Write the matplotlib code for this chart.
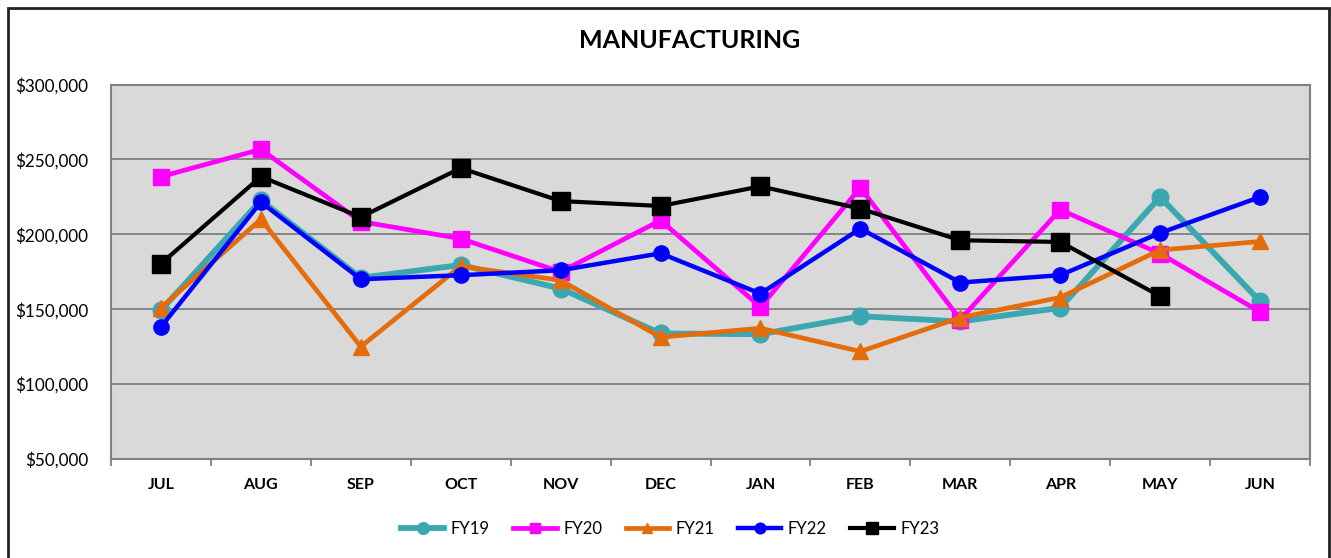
import matplotlib.pyplot as plt
import matplotlib.patches as pltp
from matplotlib.ticker import FuncFormatter, FixedLocator

plt.rcParams['font.family'] = ['Lato', 'DejaVu Sans']

months = ["JUL", "AUG", "SEP", "OCT", "NOV", "DEC", "JAN", "FEB", "MAR", "APR", "MAY", "JUN"]

fy19 = [149300, 222700, 171000, 179500, 163800, 133800, 133300, 145300, 141800, 150900, 224900, 155300]
fy20 = [238500, 256700, 208500, 197100, 174900, 209300, 151500, 231100, 143100, 216400, 187100, 148200]
fy21 = [151000, 210000, 125000, 178700, 169300, 131300, 137300, 121800, 144400, 157800, 189500, 195200]
fy22 = [138200, 221500, 170000, 172700, 176000, 187300, 160400, 203800, 167800, 172700, 200900, 224900]
fy23 = [180400, 238500, 211500, 244200, 222200, 218900, 232000, 217100, 196000, 194900, 158700]

series = [
    ("FY19", fy19, "#3ba7b1", "o", 12, 4.2),
    ("FY20", fy20, "#ff00ff", "s", 11, 3.4),
    ("FY21", fy21, "#e46c0a", "^", 11, 3.4),
    ("FY22", fy22, "#0000ff", "o", 11, 3.2),
    ("FY23", fy23, "#000000", "s", 13, 3.0),
]

fig = plt.figure(figsize=(13.31, 5.58), dpi=100)
ax = fig.add_axes([111 / 1331, 1 - 459 / 558, (1310 - 111) / 1331, (459 - 84.5) / 558])
ax.set_facecolor("#d9d9d9")

for name, vals, col, mk, ms, lw in series:
    ax.plot(range(len(vals)), vals, color=col, marker=mk, markersize=ms, lw=lw,
            markerfacecolor=col, markeredgecolor=col, label=name)

ax.set_xlim(-0.5, 11.5)
ax.set_ylim(50000, 300000)
ax.set_yticks(range(50000, 300001, 50000))
ax.yaxis.set_major_formatter(FuncFormatter(lambda v, p: "${:,.0f}".format(v)))
ax.grid(axis="y", color="#808080", lw=1.3)
ax.set_axisbelow(True)

ax.set_xticks(range(12))
ax.set_xticklabels(months, fontweight="bold", fontsize=11.5)
ax.xaxis.set_minor_locator(FixedLocator([i + 0.5 for i in range(-1, 12)]))
ax.tick_params(axis="x", which="major", length=0, pad=14)
ax.tick_params(axis="x", which="minor", length=5, color="#808080", width=1.3)
ax.tick_params(axis="y", length=0, pad=16.5, labelsize=12.3)

for s in ax.spines.values():
    s.set_color("#808080")
    s.set_linewidth(1.5)

fig.text(690 / 1331, 1 - 40 / 558, "MANUFACTURING", ha="center", va="center",
         fontsize=18, fontweight="bold")

fig.legend(loc="center", bbox_to_anchor=(670 / 1331, 1 - 529 / 558), ncol=5,
           frameon=False, fontsize=12, handlelength=2.6, columnspacing=1.4,
           handletextpad=0.4, markerscale=0.7)

fig.patches.append(pltp.Rectangle((8 / 1331, -0.05), (1329 - 8) / 1331, 1.05 - 8 / 558,
                                  transform=fig.transFigure, fill=False,
                                  ec="#222222", lw=2))

fig.savefig("out.png", dpi=100)
